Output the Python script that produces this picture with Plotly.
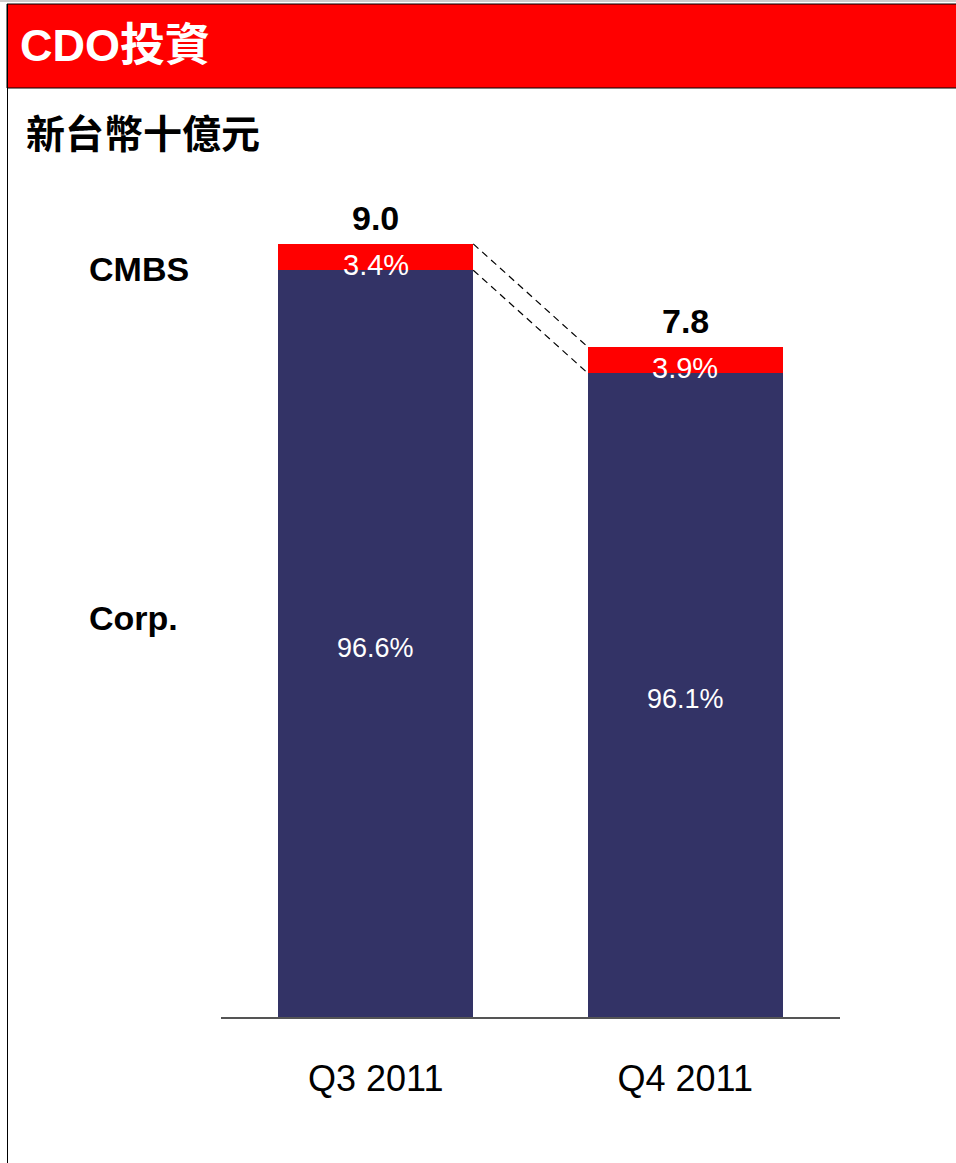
import plotly.graph_objects as go

# Portfolio data (NT$ billions)
periods = ["Q3 2011", "Q4 2011"]
totals = [9.0, 7.8]
cmbs_pct = [3.4, 3.9]
corp_pct = [96.6, 96.1]
series_names = ["CMBS", "Corp."]

corp_vals = [t * p / 100 for t, p in zip(totals, corp_pct)]
cmbs_vals = [t - c for t, c in zip(totals, corp_vals)]

W, H = 956, 1163
NAVY = "#333366"
RED = "#FF0000"
LATIN = "Liberation Sans, Arial, Helvetica, sans-serif"
CJK = "Liberation Sans, Noto Sans CJK TC, sans-serif"


def px_x(p):
    return p / W


def px_y(p):
    return 1 - p / H


BAR_W = 0.63

fig = go.Figure()
fig.add_trace(go.Bar(x=periods, y=corp_vals, name=series_names[1],
                     marker=dict(color=NAVY, line=dict(width=0)), width=BAR_W))
fig.add_trace(go.Bar(x=periods, y=cmbs_vals, name=series_names[0],
                     marker=dict(color=RED, line=dict(width=0)), width=BAR_W))

annotations = []
# total labels above each stack
for i, t in enumerate(totals):
    annotations.append(dict(x=i, y=t, xref="x", yref="y", text=f"<b>{t:.1f}</b>",
                            showarrow=False, yanchor="bottom", yshift=5,
                            font=dict(family=LATIN, size=34, color="black")))
# percentage labels inside segments
for i in range(len(periods)):
    annotations.append(dict(x=i, y=corp_vals[i] + cmbs_vals[i] / 2, xref="x", yref="y",
                            text=f"{cmbs_pct[i]:.1f}%", showarrow=False, yanchor="middle",
                            yshift=-8, font=dict(family=LATIN, size=29, color="white")))
    annotations.append(dict(x=i, y=corp_vals[i] / 2, xref="x", yref="y",
                            text=f"{corp_pct[i]:.1f}%", showarrow=False, yanchor="middle",
                            yshift=-4, font=dict(family=LATIN, size=27, color="white")))

# series names on the left
annotations.append(dict(x=px_x(87), y=px_y(269), xref="paper", yref="paper",
                        text=f"<b>{series_names[0]}</b>", showarrow=False,
                        xanchor="left", yanchor="middle",
                        font=dict(family=LATIN, size=34, color="black")))
annotations.append(dict(x=px_x(87), y=px_y(618), xref="paper", yref="paper",
                        text=f"<b>{series_names[1]}</b>", showarrow=False,
                        xanchor="left", yanchor="middle",
                        font=dict(family=LATIN, size=34, color="black")))

# header title and unit caption
annotations.append(dict(x=px_x(18), y=px_y(46), xref="paper", yref="paper",
                        text="<b>CDO投資</b>", showarrow=False,
                        xanchor="left", yanchor="middle",
                        font=dict(family=CJK, size=45, color="white")))
annotations.append(dict(x=px_x(24), y=px_y(131), xref="paper", yref="paper",
                        text="<b>新台幣十億元</b>", showarrow=False,
                        xanchor="left", yanchor="middle",
                        font=dict(family="Noto Sans CJK TC, sans-serif", size=39, color="black")))

shapes = [
    # header band
    dict(type="rect", xref="paper", yref="paper", x0=px_x(7), x1=1.01,
         y0=px_y(88), y1=px_y(4), fillcolor=RED, line=dict(color="black", width=1)),
    # top rule
    dict(type="line", xref="paper", yref="paper", x0=0, x1=1, y0=px_y(1), y1=px_y(1),
         line=dict(color="#999999", width=1)),
    # left frame edge
    dict(type="line", xref="paper", yref="paper", x0=px_x(7.5), x1=px_x(7.5),
         y0=0, y1=px_y(4), line=dict(color="black", width=1)),
]
# dashed connectors between stack segments
half = BAR_W / 2
for y0, y1 in [(totals[0], totals[1]), (corp_vals[0], corp_vals[1])]:
    shapes.append(dict(type="line", xref="x", yref="y", x0=0 + half, x1=1 - half,
                       y0=y0, y1=y1, line=dict(color="black", width=1.2, dash="7px,5px")))

fig.update_layout(
    width=W, height=H,
    margin=dict(l=0, r=0, t=0, b=0),
    barmode="stack",
    showlegend=False,
    paper_bgcolor="white",
    plot_bgcolor="white",
    annotations=annotations,
    shapes=shapes,
    xaxis=dict(domain=[px_x(221), px_x(840)], range=[-0.5, 1.5],
               showline=True, linecolor="#555555", linewidth=1.5,
               showgrid=False, zeroline=False, ticks="",
               tickfont=dict(family=LATIN, size=36, color="black"),
               ticklabelstandoff=29),
    yaxis=dict(domain=[px_y(1017), px_y(158)], range=[0, 10],
               visible=False, showgrid=False, zeroline=False),
)

fig.write_html("out.html")
